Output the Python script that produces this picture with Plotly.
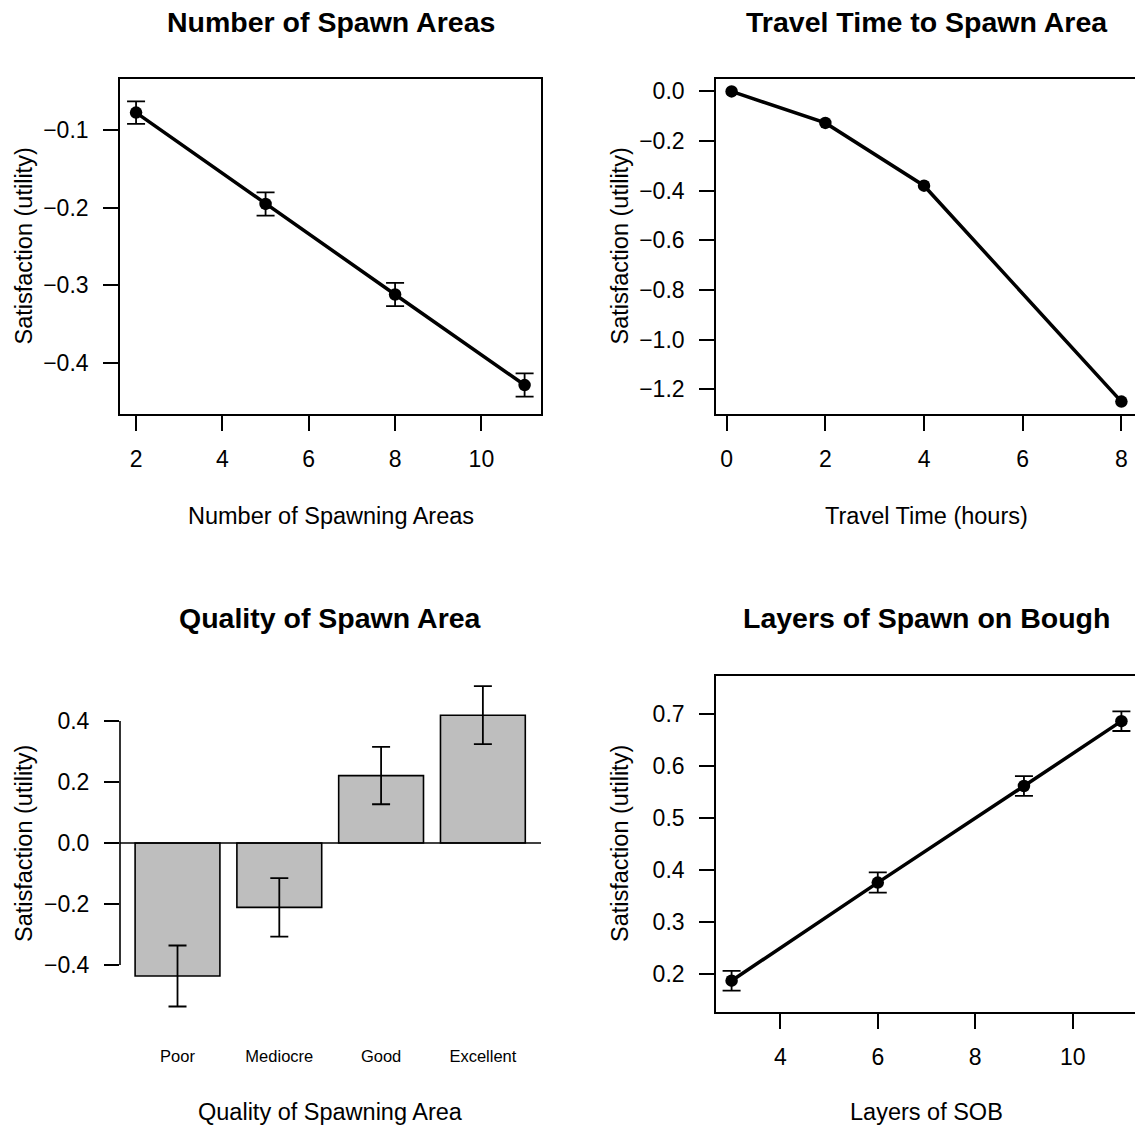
import plotly.graph_objects as go

# ---------------- data ----------------
spawn_n_x = [2, 5, 8, 11]
spawn_n_y = [-0.077, -0.195, -0.312, -0.429]
spawn_n_err = [0.0145, 0.015, 0.015, 0.015]

travel_x = [0.1, 2, 4, 8]
travel_y = [0.0, -0.127, -0.38, -1.25]

quality_cats = ["Poor", "Mediocre", "Good", "Excellent"]
quality_y = [-0.436, -0.211, 0.221, 0.419]
quality_err = [0.100, 0.096, 0.094, 0.095]

sob_x = [3, 6, 9, 11]
sob_y = [0.187, 0.376, 0.562, 0.687]
sob_err = [0.019, 0.0195, 0.019, 0.019]

titles = ["Number of Spawn Areas", "Travel Time to Spawn Area",
          "Quality of Spawn Area", "Layers of Spawn on Bough"]
xtitles = ["Number of Spawning Areas", "Travel Time (hours)",
           "Quality of Spawning Area", "Layers of SOB"]
ytitle = "Satisfaction (utility)"

# ---------------- layout geometry (pixels) ----------------
W, H = 1135, 1126
FONT = "Liberation Sans, Arial, Helvetica, sans-serif"
LX0, LX1 = 120, 541
RX0, RX1 = 716, 1137
TY0, TY1 = 79, 414
BY0, BY1 = 676, 1012


def px(v):
    return v / W


def py(v):
    return 1 - v / H


LW = 1.6
TICKFONT = dict(family=FONT, size=23, color="black")

fig = go.Figure()

line_style = dict(color="black", width=3.5)
marker_style = dict(color="black", size=12.5)
err_common = dict(type="data", visible=True, color="black", thickness=1.8, width=9)

fig.add_trace(go.Scatter(x=spawn_n_x, y=spawn_n_y, mode="lines+markers",
                         line=line_style, marker=marker_style,
                         error_y=dict(array=spawn_n_err, **err_common),
                         xaxis="x", yaxis="y"))
fig.add_trace(go.Scatter(x=travel_x, y=travel_y, mode="lines+markers",
                         line=line_style, marker=marker_style,
                         xaxis="x2", yaxis="y2", cliponaxis=False))
fig.add_trace(go.Bar(x=quality_cats, y=quality_y, width=1 / 1.2,
                     marker=dict(color="#BEBEBE", line=dict(color="black", width=1.6)),
                     error_y=dict(array=quality_err, **err_common),
                     xaxis="x3", yaxis="y3"))
fig.add_trace(go.Scatter(x=sob_x, y=sob_y, mode="lines+markers",
                         line=line_style, marker=marker_style,
                         error_y=dict(array=sob_err, **err_common),
                         xaxis="x4", yaxis="y4", cliponaxis=False))


def axis_common(**kw):
    d = dict(showgrid=False, zeroline=False, ticks="outside", ticklen=15,
             tickwidth=LW, tickcolor="black", tickfont=TICKFONT,
             linecolor="black", linewidth=LW)
    d.update(kw)
    return d


# right panels: visible part ends at the canvas edge (box edge just off-canvas)
def vis_range(lo, hi):
    return [lo, lo + (hi - lo) * (W - RX0) / (RX1 - RX0)]


layout = dict(
    width=W, height=H, margin=dict(l=0, r=0, t=0, b=0),
    paper_bgcolor="white", plot_bgcolor="white", showlegend=False,
    font=dict(family=FONT, color="black"),
    xaxis=axis_common(domain=[px(LX0), px(LX1)], anchor="y", range=[1.628, 11.38],
                      tickvals=[2, 4, 6, 8, 10], showline=True, mirror=True,
                      ticklabelstandoff=9),
    yaxis=axis_common(domain=[py(TY1), py(TY0)], anchor="x", range=[-0.4664, -0.0336],
                      tickvals=[-0.1, -0.2, -0.3, -0.4], tickformat=".1f",
                      showline=True, mirror=True, ticklabelstandoff=10),
    xaxis2=axis_common(domain=[px(RX0), 1.0], anchor="y2", range=vis_range(-0.216, 8.316),
                       tickvals=[0, 2, 4, 6, 8], showline=True, mirror=True,
                       ticklabelstandoff=9),
    yaxis2=axis_common(domain=[py(TY1), py(TY0)], anchor="x2", range=[-1.3, 0.05],
                       tickvals=[0, -0.2, -0.4, -0.6, -0.8, -1.0, -1.2], tickformat=".1f",
                       showline=True, ticklabelstandoff=10),
    xaxis3=axis_common(domain=[px(LX0), px(LX1)], anchor="y3", type="category",
                       range=[-0.565, 3.571], ticks="", showline=False,
                       tickfont=dict(family=FONT, size=16.5, color="black"),
                       ticklabelstandoff=32),
    yaxis3=axis_common(domain=[py(BY1), py(BY0)], anchor="x3", range=[-0.554, 0.5475],
                       tickvals=[-0.4, -0.2, 0, 0.2, 0.4], tickformat=".1f",
                       showline=False, ticklabelstandoff=10),
    xaxis4=axis_common(domain=[px(RX0), 1.0], anchor="y4", range=vis_range(2.68, 11.32),
                       tickvals=[4, 6, 8, 10], showline=True, mirror=True,
                       ticklabelstandoff=9),
    yaxis4=axis_common(domain=[py(BY1), py(BY0)], anchor="x4", range=[0.1267, 0.774],
                       tickvals=[0.2, 0.3, 0.4, 0.5, 0.6, 0.7], tickformat=".1f",
                       showline=True, ticklabelstandoff=10),
)
fig.update_layout(**layout)

# bar panel: y-axis line spanning the tick range, and zero line
fig.add_shape(type="line", xref="x3 domain", yref="y3", x0=0, x1=0, y0=-0.4, y1=0.4,
              line=dict(color="black", width=LW))
fig.add_shape(type="line", xref="x3 domain", yref="y3", x0=0, x1=1, y0=0, y1=0,
              line=dict(color="black", width=LW))

# titles and axis titles
ann = []
centers_x = [(LX0 + LX1) / 2, (RX0 + RX1) / 2, (LX0 + LX1) / 2, (RX0 + RX1) / 2]
title_y = [22, 22, 618, 618]
xt_y = [516, 516, 1112, 1112]
yt_x = [24, 620, 24, 620]
yt_y = [(TY0 + TY1) / 2, (TY0 + TY1) / 2, (BY0 + BY1) / 2, (BY0 + BY1) / 2]
for i in range(4):
    ann.append(dict(text="<b>%s</b>" % titles[i], x=px(centers_x[i]), y=py(title_y[i]),
                    xref="paper", yref="paper", showarrow=False,
                    xanchor="center", yanchor="middle",
                    font=dict(family=FONT, size=28.5, color="black")))
    ann.append(dict(text=xtitles[i], x=px(centers_x[i]), y=py(xt_y[i]),
                    xref="paper", yref="paper", showarrow=False,
                    xanchor="center", yanchor="middle",
                    font=dict(family=FONT, size=23.5, color="black")))
    ann.append(dict(text=ytitle, x=px(yt_x[i]), y=py(yt_y[i]), textangle=-90,
                    xref="paper", yref="paper", showarrow=False,
                    xanchor="center", yanchor="middle",
                    font=dict(family=FONT, size=23.5, color="black")))
fig.update_layout(annotations=ann)

fig.write_html("out.html")
